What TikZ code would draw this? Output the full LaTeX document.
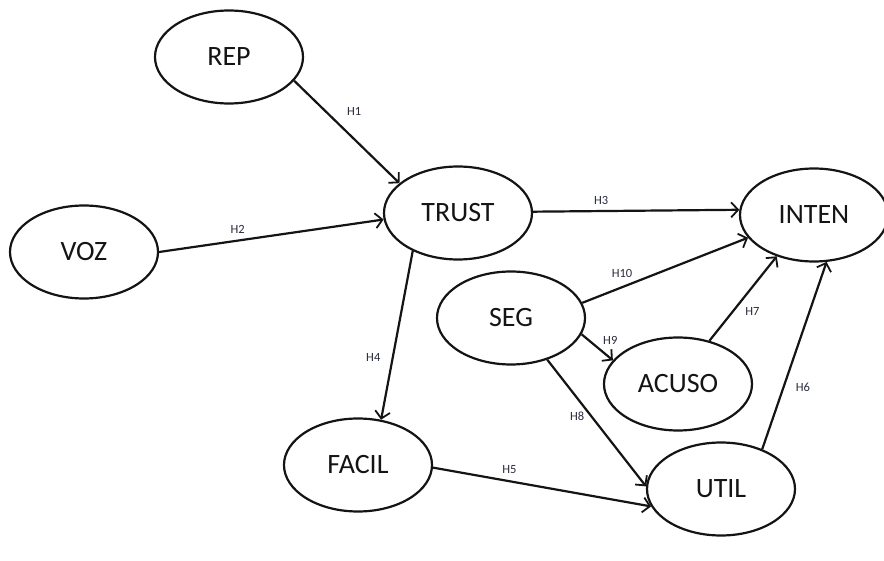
\documentclass[tikz,border=0pt]{standalone}
\usepackage{fontspec}
\setmainfont{Carlito}
\usetikzlibrary{arrows.meta,shapes.geometric}
\definecolor{ink}{RGB}{20,20,20}
\definecolor{tag}{RGB}{40,45,60}
\tikzset{
  construct/.style={ellipse,draw=ink,line width=2.2pt,minimum width=148pt,minimum height=93pt,inner sep=0pt,font=\fontsize{28}{28}\selectfont,text=ink},
  path/.style={draw=ink,line width=2.2pt,-{Straight Barb[length=7pt,width=15pt,line width=1.8pt]}},
  hyp/.style={font=\fontsize{12.5}{12.5}\selectfont,text=tag}
}

\begin{document}
\begin{tikzpicture}[x=1pt,y=-1pt]
  \useasboundingbox (0,0) rectangle (884,561);
  % constructs
  \node[construct] (rep)   at (229,57)  {REP};
  \node[construct] (voz)   at (84,252)  {VOZ};
  \node[construct] (trust) at (458,213) {TRUST};
  \node[construct] (inten) at (814,215) {INTEN};
  \node[construct] (seg)   at (511,318) {SEG};
  \node[construct] (acuso) at (678,384) {ACUSO};
  \node[construct] (facil) at (358,465) {FACIL};
  \node[construct] (util)  at (721,489) {UTIL};
  % hypotheses
  \draw[path] (rep.340)   -- (trust.153) node[hyp,pos=.3,right=17pt] (h1) {H1};
  \draw[path] (voz.0)     -- (trust.185) node[hyp,pos=.35,above=3pt] (h2) {H2};
  \draw[path] (trust.1)   -- (inten.176) node[hyp,pos=.33,above=2pt] (h3) {H3};
  \draw[path] (trust.220) -- (facil.63)  node[hyp,pos=.63,left=8pt] (h4) {H4};
  \draw[path] (facil.358) -- (util.194)  node[hyp,pos=.35,above=3pt] (h5) {H5};
  \draw[path] (util.44)   -- (inten.285) node[hyp,pos=.33,right=8pt] (h6) {H6};
  \draw[path] (acuso.54)  -- (inten.228) node[hyp,pos=.35,right=8pt] (h7) {H7};
  \draw[path] (seg.311)   -- (util.178)  node[hyp,pos=.45,left=3pt] (h8) {H8};
  \draw[path] (seg.347)   -- (acuso.160) node[hyp,pos=.55,above right=0pt] (h9) {H9};
  \draw[path] (seg.12)    -- (inten.199) node[hyp,pos=.24,above=5pt] (h10) {H10};
\end{tikzpicture}
\end{document}
